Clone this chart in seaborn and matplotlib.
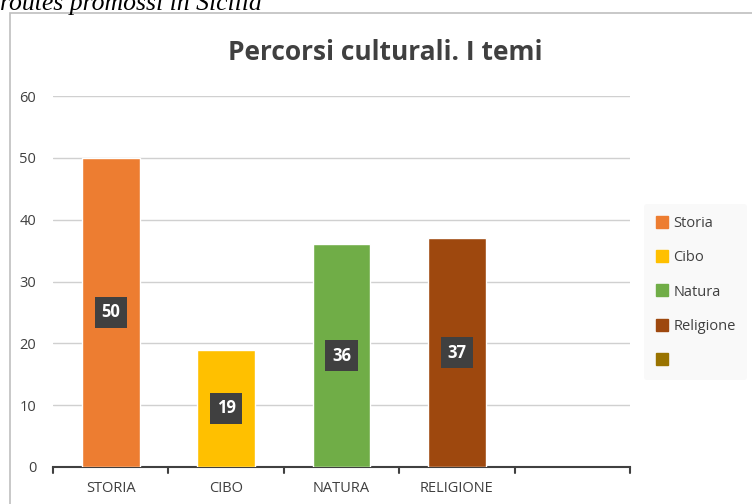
import numpy as np
import pandas as pd
import seaborn as sns
import matplotlib.pyplot as plt
from matplotlib.patches import Rectangle
from matplotlib.lines import Line2D

# dati
categorie = ["STORIA", "CIBO", "NATURA", "RELIGIONE"]
valori = [50, 19, 36, 37]
voci_legenda = ["Storia", "Cibo", "Natura", "Religione", ""]
colori = ["#ED7D31", "#FFC000", "#70AD47", "#9E480E", "#997300"]

df = pd.DataFrame({"tema": categorie, "valore": valori})

sns.set_style("white")
plt.rcParams["font.family"] = ["Open Sans", "DejaVu Sans"]

fig = plt.figure(figsize=(7.52, 5.04), dpi=100)

# cornice del grafico
fig.patches.append(Rectangle((10 / 752, -0.05), 1.0, 1 - 13 / 504 + 0.05,
                             transform=fig.transFigure, fill=False,
                             edgecolor="#bfbfbf", linewidth=1.2))

# testo tagliato in alto
fig.text(0.0, 1 - 10 / 504, "routes promossi in Sicilia", family="Liberation Serif",
         style="italic", fontsize=18.5, color="black", va="baseline", ha="left")

ax = fig.add_axes([53 / 752, 1 - 467 / 504, (630 - 53) / 752, (467 - 96) / 504])

sns.barplot(data=df, x="tema", y="valore", hue="tema", palette=colori[:4],
            width=0.5, legend=False, ax=ax, zorder=3, saturation=1)

ax.set_xlim(-0.5, 4.5)
ax.set_ylim(0, 60)
ax.set_yticks(range(0, 61, 10))
ax.yaxis.grid(True, color="#d0d0d0", linewidth=1, zorder=0)
ax.set_xlabel("")
ax.set_ylabel("")
ax.set_xticks(range(len(categorie)))
ax.set_xticklabels(categorie)
ax.tick_params(axis="x", length=0, pad=10, labelsize=10.5, labelcolor="#404040")
ax.tick_params(axis="y", length=0, pad=12, labelsize=10.5, labelcolor="#404040")
for s in ["top", "right", "left"]:
    ax.spines[s].set_visible(False)
ax.spines["bottom"].set_color("#404040")
ax.spines["bottom"].set_linewidth(1.5)

# tacche tra le categorie
for xb in np.arange(-0.5, 5, 1.0):
    ax.plot([xb, xb], [0, -0.9], color="#404040", lw=1.5, clip_on=False, zorder=4)

# etichette dei valori
for i, v in enumerate(valori):
    ax.text(i, v / 2, str(v), ha="center", va="center", color="white",
            fontsize=12, fontweight="bold", zorder=5,
            bbox=dict(boxstyle="square,pad=0.4", facecolor="#404040", edgecolor="none"))

fig.text(385 / 752, 1 - 52 / 504, "Percorsi culturali. I temi", ha="center", va="center",
         fontsize=19, fontweight="bold", color="#404040")

# legenda
handles = [Line2D([], [], marker="s", linestyle="none", markersize=8,
                  markerfacecolor=c, markeredgecolor=c) for c in colori]
leg = fig.legend(handles, voci_legenda, loc="center left",
                 bbox_to_anchor=(644 / 752, 1 - 292 / 504), frameon=True,
                 fontsize=10.5, labelspacing=1.32, handletextpad=0.3,
                 handlelength=0.9, handleheight=0.7, borderpad=0.8, borderaxespad=0)
leg.get_frame().set_facecolor("#f8f8f8")
leg.get_frame().set_edgecolor("none")
for t in leg.get_texts():
    t.set_color("#404040")

fig.savefig("out.png", dpi=100)
